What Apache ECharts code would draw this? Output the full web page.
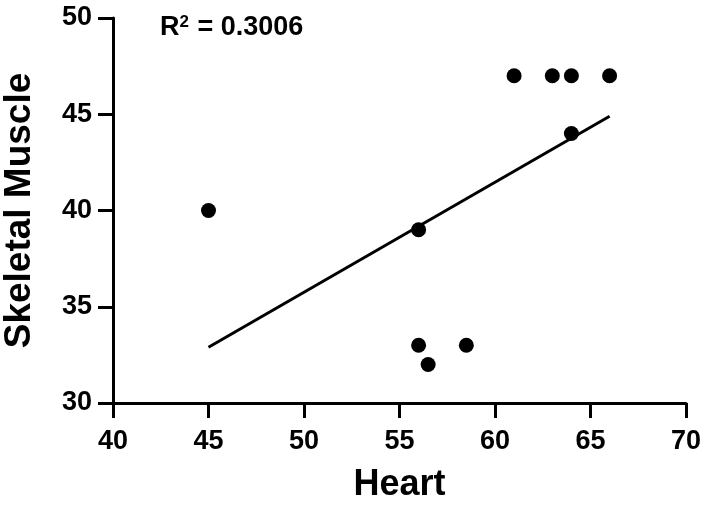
<!DOCTYPE html>
<html>
<head>
<meta charset="utf-8">
<script src="https://cdn.jsdelivr.net/npm/echarts@6/dist/echarts.min.js"></script>
<style>
html,body{margin:0;padding:0;background:#fff;}
#c{width:705px;height:512px;}
</style>
</head>
<body>
<div id="c"></div>
<script>
// Data
var heartX = [45, 56, 56, 56.5, 58.5, 61, 63, 64, 64, 66];
var muscleY = [40, 39, 33, 32, 33, 47, 47, 47, 44, 47];
// Fitted regression line endpoints
var fitX = [45, 66];
var fitY = [32.9, 44.9];
var xTicks = [40, 45, 50, 55, 60, 65, 70];
var yTicks = [30, 35, 40, 45, 50];
var r2Text = '0.3006';

var font = 'Liberation Sans, Arial, Helvetica, sans-serif';
var chart = echarts.init(document.getElementById('c'), null, {renderer: 'canvas'});
var pts = heartX.map(function (x, i) { return [x, muscleY[i]]; });
var fitPts = fitX.map(function (x, i) { return [x, fitY[i]]; });

chart.setOption({
  animation: false,
  backgroundColor: '#fff',
  grid: {left: 113, right: 19, top: 18, bottom: 109, containLabel: false, outerBoundsMode: 'none'},
  xAxis: {
    type: 'value', min: xTicks[0], max: xTicks[xTicks.length - 1], interval: 5,
    name: 'Heart', nameLocation: 'middle', nameGap: 64,
    nameTextStyle: {color: '#000', fontSize: 36, fontWeight: 'bold', fontFamily: font},
    axisLine: {onZero: false, lineStyle: {color: '#000', width: 3}},
    axisTick: {show: true, inside: false, length: 15, lineStyle: {color: '#000', width: 3}},
    axisLabel: {color: '#000', fontSize: 27, fontWeight: 'bold', fontFamily: font, margin: 25},
    splitLine: {show: false}
  },
  yAxis: {
    type: 'value', min: yTicks[0], max: yTicks[yTicks.length - 1], interval: 5,
    name: 'Skeletal Muscle', nameLocation: 'middle', nameGap: 75, nameRotate: 90,
    nameTextStyle: {color: '#000', fontSize: 37, fontWeight: 'bold', fontFamily: font},
    axisLine: {onZero: false, lineStyle: {color: '#000', width: 3}},
    axisTick: {show: true, inside: false, length: 15, lineStyle: {color: '#000', width: 3}},
    axisLabel: {color: '#000', fontSize: 27, fontWeight: 'bold', fontFamily: font, margin: 21},
    splitLine: {show: false}
  },
  series: [
    {
      type: 'line', data: fitPts, symbol: 'none', silent: true,
      lineStyle: {color: '#000', width: 3}, z: 2
    },
    {
      type: 'scatter', data: pts, symbol: 'circle', symbolSize: 15,
      itemStyle: {color: '#000', opacity: 1}, z: 3
    }
  ],
  graphic: [{
    type: 'text', left: 160, top: 14,
    style: {
      rich: {
        b: {fontSize: 27, fontWeight: 'bold', fontFamily: font, fill: '#000'},
        s: {fontSize: 17, fontWeight: 'bold', fontFamily: font, fill: '#000', verticalAlign: 'top', padding: [0, 1, 11, 0]}
      },
      text: '{b|R}{s|2}{b| = ' + r2Text + '}'
    }
  }]
});
</script>
</body>
</html>
